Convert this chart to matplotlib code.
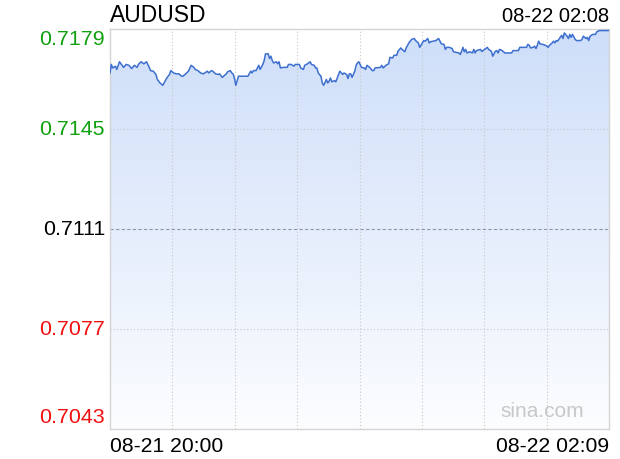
import matplotlib
matplotlib.use("Agg")
import matplotlib.pyplot as plt
import matplotlib.transforms as mtransforms
import numpy as np

# AUDUSD intraday, minutes after 08-21 20:00
minutes = [0, 1, 2, 4, 5, 7, 9, 10, 12, 14, 16, 18, 20, 21, 23, 25, 27, 28, 30, 32,
           34, 35, 37, 39, 40, 42, 44, 45, 47, 49, 51, 53, 54, 56, 58, 60, 62, 63, 65, 67,
           69, 72, 73, 75, 76, 78, 80, 81, 83, 84, 86, 87, 89, 90, 91, 92, 93, 95, 102, 104,
           105, 106, 108, 110, 111, 113, 114, 115, 117, 118, 119, 120, 121, 123, 124, 125, 126, 128, 131, 132,
           134, 136, 137, 140, 141, 143, 144, 146, 148, 149, 151, 152, 153, 154, 156, 157, 158, 160, 161, 162,
           163, 164, 166, 167, 169, 170, 172, 173, 175, 176, 177, 178, 179, 181, 182, 183, 184, 186, 188, 189,
           190, 192, 194, 195, 196, 200, 201, 202, 204, 206, 207, 209, 210, 212, 213, 215, 216, 218, 219, 221,
           223, 225, 226, 228, 229, 231, 232, 233, 235, 236, 237, 239, 241, 243, 244, 245, 247, 248, 249, 251,
           253, 254, 258, 259, 260, 261, 262, 263, 264, 266, 268, 269, 270, 271, 274, 275, 277, 279, 280, 282,
           283, 285, 286, 287, 288, 290, 292, 297, 298, 302, 303, 308, 309, 310, 311, 313, 314, 315, 316, 317,
           318, 320, 322, 323, 324, 325, 327, 328, 329, 330, 331, 333, 334, 335, 336, 338, 339, 340, 341, 342,
           344, 345, 348, 349, 350, 352, 353, 354, 355, 357, 359, 360, 362, 369]

prices = [0.71639, 0.71668, 0.71656, 0.71662, 0.71651, 0.71677, 0.71665, 0.71658, 0.71668, 0.71665,
          0.71654, 0.71665, 0.71658, 0.71668, 0.71677, 0.71670, 0.71677, 0.71668, 0.71647, 0.71645,
          0.71634, 0.71617, 0.71605, 0.71597, 0.71605, 0.71622, 0.71634, 0.71647, 0.71639, 0.71636,
          0.71636, 0.71628, 0.71628, 0.71636, 0.71645, 0.71665, 0.71658, 0.71651, 0.71647, 0.71639,
          0.71636, 0.71645, 0.71639, 0.71647, 0.71645, 0.71636, 0.71634, 0.71636, 0.71624, 0.71628,
          0.71636, 0.71643, 0.71647, 0.71639, 0.71636, 0.71622, 0.71597, 0.71628, 0.71628, 0.71645,
          0.71639, 0.71647, 0.71647, 0.71665, 0.71651, 0.71668, 0.71681, 0.71704, 0.71704, 0.71688,
          0.71696, 0.71681, 0.71673, 0.71677, 0.71670, 0.71677, 0.71656, 0.71658, 0.71658, 0.71668,
          0.71668, 0.71662, 0.71668, 0.71668, 0.71656, 0.71651, 0.71665, 0.71670, 0.71677, 0.71668,
          0.71665, 0.71656, 0.71656, 0.71639, 0.71628, 0.71605, 0.71597, 0.71617, 0.71605, 0.71611,
          0.71622, 0.71609, 0.71613, 0.71609, 0.71634, 0.71645, 0.71634, 0.71639, 0.71634, 0.71620,
          0.71636, 0.71636, 0.71624, 0.71645, 0.71665, 0.71673, 0.71677, 0.71658, 0.71656, 0.71651,
          0.71665, 0.71658, 0.71647, 0.71647, 0.71656, 0.71658, 0.71665, 0.71656, 0.71665, 0.71670,
          0.71692, 0.71690, 0.71699, 0.71699, 0.71713, 0.71724, 0.71719, 0.71711, 0.71724, 0.71741,
          0.71753, 0.71756, 0.71749, 0.71741, 0.71726, 0.71741, 0.71749, 0.71747, 0.71756, 0.71741,
          0.71745, 0.71747, 0.71749, 0.71756, 0.71747, 0.71738, 0.71736, 0.71719, 0.71726, 0.71726,
          0.71722, 0.71711, 0.71707, 0.71702, 0.71713, 0.71726, 0.71711, 0.71719, 0.71707, 0.71711,
          0.71707, 0.71719, 0.71707, 0.71715, 0.71719, 0.71712, 0.71719, 0.71726, 0.71719, 0.71713,
          0.71696, 0.71713, 0.71715, 0.71707, 0.71719, 0.71715, 0.71707, 0.71707, 0.71715, 0.71715,
          0.71726, 0.71726, 0.71736, 0.71733, 0.71724, 0.71726, 0.71730, 0.71722, 0.71733, 0.71747,
          0.71738, 0.71736, 0.71733, 0.71730, 0.71726, 0.71733, 0.71741, 0.71747, 0.71741, 0.71749,
          0.71747, 0.71760, 0.71767, 0.71756, 0.71775, 0.71764, 0.71756, 0.71770, 0.71760, 0.71770,
          0.71753, 0.71749, 0.71749, 0.71753, 0.71764, 0.71756, 0.71760, 0.71749, 0.71764, 0.71770,
          0.71770, 0.71779, 0.71783, 0.71783]

assert len(minutes) == len(prices)

prev_close = 0.7111
y_ticks = [0.7043, 0.7077, 0.7111, 0.7145, 0.7179]
tick_colors = ['#f01010', '#f01010', '#000000', '#10a010', '#10a010']
x_labels = ['08-21 20:00', '08-22 02:09']
symbol = 'AUDUSD'
last_time = '08-22 02:08'

plt.rcParams['font.family'] = ['Liberation Sans', 'DejaVu Sans']

fig = plt.figure(figsize=(6.2, 4.6), dpi=100)
ax = fig.add_axes([110 / 620, 1 - 430 / 460, 499 / 620, 400.5 / 460])

x_max = 369
ax.set_xlim(0, x_max)
ax.set_ylim(y_ticks[0], y_ticks[-1])

# gradient under the line
x = np.array(minutes)
y = np.array(prices)
grad = np.linspace(0, 1, 256).reshape(-1, 1)
top_c = np.array([206, 222, 249]) / 255
bot_c = np.array([252, 253, 255]) / 255
img = bot_c + (top_c - bot_c) * grad
img = img[:, None, :] * np.ones((1, 2, 1))
im = ax.imshow(img, extent=[0, x_max, y_ticks[0], y_ticks[-1]], origin='lower',
               aspect='auto', zorder=1, interpolation='bilinear')
poly = ax.fill_between(x, y, y_ticks[0], color='none', lw=0)
clip = poly.get_paths()[0]
im.set_clip_path(clip, transform=ax.transData)

ax.plot(x, y, color='#3d6fce', lw=1.1, zorder=4)

# grid
for k in range(1, 8):
    ax.axvline(x_max * k / 8, color='#c8c8c8', lw=0.8, ls=(0, (1, 2)), zorder=2)
for v in [y_ticks[1], y_ticks[3]]:
    ax.axhline(v, color='#c8c8c8', lw=0.8, ls=(0, (1, 2)), zorder=2)
ax.axhline(prev_close, color='#9098a8', lw=0.8, ls=(0, (3, 2)), zorder=2)

for s in ax.spines.values():
    s.set_color('#d4d4d4')
    s.set_linewidth(1.0)

# price labels on the left, first/last kept inside the plot
ax.set_xticks([])
ax.set_yticks([])
ylab_tr = mtransforms.blended_transform_factory(ax.transAxes, ax.transData)
for i, (v, c) in enumerate(zip(y_ticks, tick_colors)):
    va = 'center'
    dy = 0
    if i == 0:
        va, dy = 'baseline', 7
    elif i == len(y_ticks) - 1:
        va, dy = 'top', -1
    tr = mtransforms.offset_copy(ylab_tr, fig=fig, x=-5, y=dy, units='dots')
    ax.text(0, v, f'{v:.4f}', transform=tr, ha='right', va=va, color=c, fontsize=15.4)

xlab_tr = mtransforms.blended_transform_factory(ax.transData, ax.transAxes)
xlab_tr = mtransforms.offset_copy(xlab_tr, fig=fig, x=0, y=-17, units='dots')
ax.text(0, 0, x_labels[0], transform=xlab_tr, ha='left', va='center', fontsize=15.2)
ax.text(x_max, 0, x_labels[1], transform=xlab_tr, ha='right', va='center', fontsize=15.2)

fig.text(110 / 620, 1 - 15 / 460, symbol, fontsize=16.5, ha='left', va='center')
fig.text(609 / 620, 1 - 16 / 460, last_time, fontsize=14.5, ha='right', va='center')
ax.text(0.95, 0.045, 'sina.com', transform=ax.transAxes, fontsize=15,
        color='#c8c8c8', ha='right', va='center', zorder=5)

fig.savefig('out.png', dpi=100)
